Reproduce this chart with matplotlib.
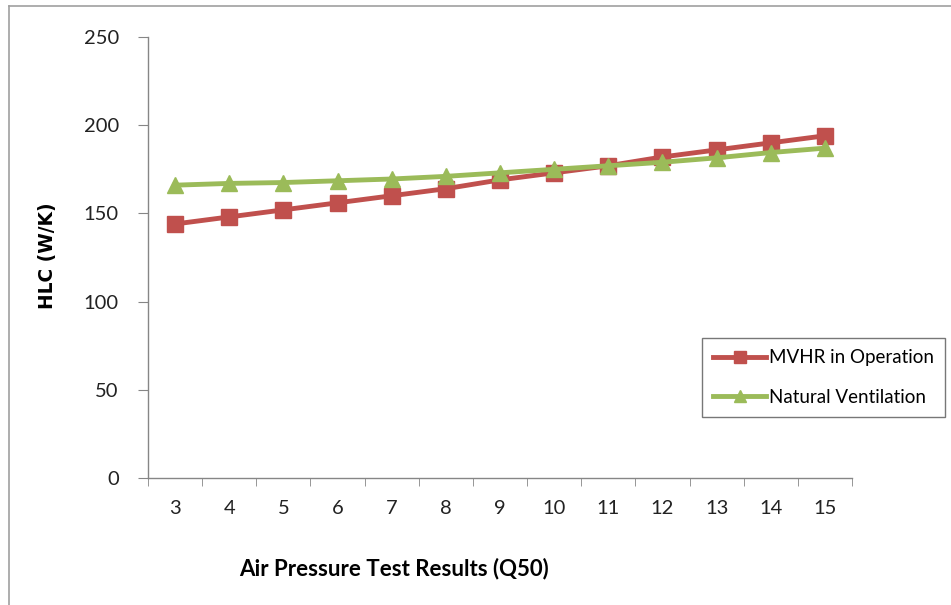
import matplotlib
matplotlib.use('Agg')
import matplotlib.pyplot as plt
from matplotlib.lines import Line2D

# values
q50 = ['3', '4', '5', '6', '7', '8', '9', '10', '11', '12', '13', '14', '15']
mvhr = [144, 148, 152, 156, 160, 164, 169, 173, 177, 182, 186, 190, 194]
natural = [166, 167, 167.5, 168.5, 169.5, 171, 173, 175, 177, 179, 181.5, 184.5, 187]
y_ticks = [0, 50, 100, 150, 200, 250]

RED = '#C0504D'
GREEN = '#9BBB59'
AXIS_GREY = '#868686'

plt.rcParams['font.family'] = ['Lato', 'DejaVu Sans']

fig = plt.figure(figsize=(9.51, 6.05), dpi=100)
ax = fig.add_axes([148 / 951, 1 - 478 / 605, 704 / 951, 441 / 605])

x = list(range(len(q50)))
ax.plot(x, mvhr, color=RED, lw=3.5, marker='s', ms=11, mec=RED, label='MVHR in Operation', zorder=3)
ax.plot(x, natural, color=GREEN, lw=3.5, marker='^', ms=11, mec=GREEN, label='Natural Ventilation', zorder=3)

ax.set_xlim(-0.5, len(q50) - 0.5)
ax.set_ylim(0, 250)
ax.set_yticks(y_ticks)
ax.set_yticklabels([str(v) for v in y_ticks], fontsize=14.5, color='#222222')

# category labels at centres, tick marks between categories (Excel style)
ax.set_xticks(x)
ax.set_xticklabels(q50, fontsize=14.5, color='#222222')
ax.tick_params(axis='x', length=0, pad=16)
ax.set_xticks([i - 0.5 for i in range(len(q50) + 1)], minor=True)
ax.tick_params(axis='x', which='minor', length=6, direction='out', color=AXIS_GREY)
ax.tick_params(axis='y', length=7, direction='out', color=AXIS_GREY, pad=14)

for side in ['top', 'right']:
    ax.spines[side].set_visible(False)
for side in ['left', 'bottom']:
    ax.spines[side].set_color(AXIS_GREY)
    ax.spines[side].set_linewidth(1.0)

fig.text(48 / 951, 1 - 256 / 605, 'HLC (W/K)', rotation=90, fontsize=13.4, fontweight='bold',
         family='DejaVu Sans', ha='center', va='center')
fig.text(394 / 951, 1 - 569 / 605, 'Air Pressure Test Results (Q50)', fontsize=16,
         fontweight='bold', ha='center', va='center')

leg = ax.legend(loc='upper left', bbox_to_anchor=(702 / 951, 1 - 338 / 605),
                bbox_transform=fig.transFigure, fontsize=13.5, frameon=True, fancybox=False,
                handlelength=2.8, handletextpad=0.15, borderpad=0.6, labelspacing=1.2,
                borderaxespad=0, markerscale=0.75)
leg.get_frame().set_edgecolor('#555555')
leg.get_frame().set_linewidth(1.0)

# chart area border (left and top edges visible in the reference)
fig.add_artist(Line2D([9 / 951, 9 / 951], [0, 1 - 6 / 605], transform=fig.transFigure,
                      color='#A0A0A0', lw=1.2))
fig.add_artist(Line2D([9 / 951, 1], [1 - 6 / 605, 1 - 6 / 605], transform=fig.transFigure,
                      color='#A0A0A0', lw=1.2))

fig.savefig('out.png', dpi=100)
